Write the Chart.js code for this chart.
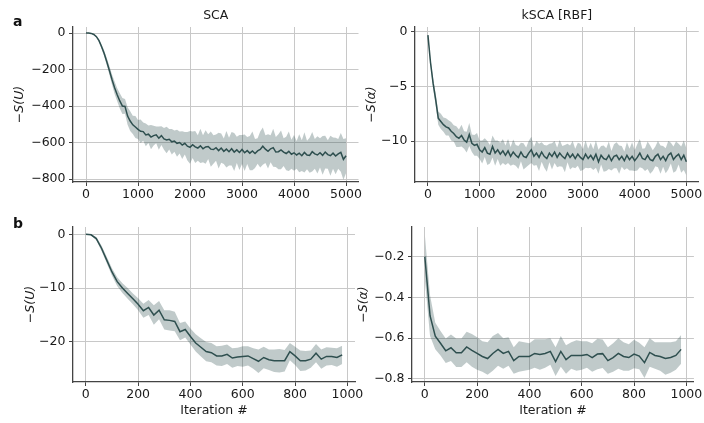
<!DOCTYPE html>
<html>
<head>
<meta charset="utf-8">
<script src="https://cdn.jsdelivr.net/npm/chart.js@4.4.0/dist/chart.umd.min.js"></script>
<style>
  html, body { margin: 0; padding: 0; background: #fff; }
  #wrap { position: relative; width: 704px; height: 423px; overflow: hidden; }
  #wrap canvas { position: absolute; left: 0; top: 0; }
  .panel-tag { position: absolute; font-family: 'DejaVu Sans', sans-serif; font-weight: bold; font-size: 14px; line-height: 1; color: #111; }
</style>
</head>
<body>
<div id="wrap">
  <canvas id="chartA1" width="704" height="423"></canvas>
  <canvas id="chartA2" width="704" height="423"></canvas>
  <canvas id="chartB1" width="704" height="423"></canvas>
  <canvas id="chartB2" width="704" height="423"></canvas>
  <div class="panel-tag" style="left:13px; top:14px;">a</div>
  <div class="panel-tag" style="left:13px; top:216px;">b</div>
</div>
<script>
/* --- DATA --- */
// iteration grids (row a: every 50 iterations, row b: every 20)
const steps = (start, end, step) => {
  const out = [];
  for (let v = start; v <= end; v += step) out.push(v);
  return out;
};
const ITER_LONG = steps(0, 5000, 50);
const ITER_SHORT = steps(0, 980, 20);

// a, SCA: mean of -S(U) and half-width of the band
const SCA_MEAN = [
  0, 0, -2, -8, -20, -42, -75, -112, -157, -205,
  -255, -300, -338, -372, -400, -402, -455, -482, -503, -515,
  -528, -538, -540, -558, -554, -570, -562, -558, -576, -562,
  -580, -586, -582, -596, -592, -604, -600, -614, -604, -620,
  -626, -612, -624, -630, -618, -634, -624, -622, -636, -638,
  -628, -644, -630, -648, -636, -650, -634, -652, -640, -654,
  -638, -656, -644, -658, -646, -660, -646, -638, -620, -636,
  -648, -634, -628, -652, -650, -640, -652, -660, -648, -664,
  -656, -668, -658, -672, -654, -668, -670, -650, -662, -668,
  -656, -670, -652, -666, -672, -658, -674, -662, -654, -692,
  -672
];
const SCA_SPREAD = [
  0, 1, 2, 3, 5, 8, 12, 16, 20, 24,
  28, 34, 36, 42, 44, 40, 48, 54, 50, 60,
  52, 64, 50, 62, 48, 66, 54, 46, 64, 52,
  60, 72, 56, 70, 58, 74, 60, 76, 62, 78,
  90, 72, 88, 70, 94, 74, 92, 68, 96, 78,
  72, 98, 80, 70, 100, 76, 92, 104, 72, 96,
  80, 100, 74, 94, 106, 80, 70, 98, 102, 76,
  94, 74, 104, 82, 96, 106, 76, 92, 108, 80,
  98, 76, 104, 84, 110, 78, 96, 108, 82, 102,
  80, 106, 90, 78, 110, 86, 100, 82, 106, 112,
  96
];

// a, kSCA [RBF]: mean of -S(alpha) and half-width
const KSCA_MEAN = [
  -0.3, -2.8, -4.7, -6.2, -7.9, -8.2, -8.5, -8.7, -8.8, -9.1,
  -9.3, -9.6, -9.75, -9.5, -9.9, -10.1, -9.4, -10.2, -10.4, -10.3,
  -10.8, -11.0, -10.6, -11.1, -11.2, -10.5, -11.1, -10.8, -11.2, -10.9,
  -11.3, -10.9, -11.4, -11.0, -11.3, -11.5, -11.0, -11.4, -11.5, -11.1,
  -10.8, -11.4, -11.1, -11.5, -11.0, -11.4, -11.6, -11.1, -11.4, -11.0,
  -11.5, -11.1, -11.4, -11.6, -11.1, -11.5, -11.2, -11.6, -11.2, -11.5,
  -11.7, -11.2, -11.6, -11.3, -11.7, -11.2, -11.9, -11.3, -11.6, -11.7,
  -11.3, -11.8, -11.4, -11.3, -11.7, -11.4, -11.8, -11.3, -11.7, -11.4,
  -11.8, -11.5, -11.1, -11.6, -11.7, -11.3, -11.7, -11.8, -11.4, -11.2,
  -11.7, -11.4, -11.8, -11.3, -11.1, -11.7, -11.4, -11.2, -11.7, -11.3,
  -11.9
];
const KSCA_SPREAD = [
  0.15, 0.3, 0.45, 0.55, 0.6, 0.7, 0.65, 0.8, 0.7, 0.85,
  0.75, 0.95, 0.8, 1.0, 0.8, 0.95, 1.05, 0.8, 0.95, 1.05,
  0.85, 1.05, 0.85, 1.1, 0.85, 1.0, 1.15, 0.85, 1.05, 1.1,
  0.9, 1.1, 0.85, 1.15, 0.95, 1.05, 0.85, 1.2, 0.9, 1.1,
  1.2, 0.85, 1.1, 1.25, 0.9, 1.05, 1.2, 0.85, 1.2, 1.0,
  0.9, 1.2, 0.95, 1.25, 0.85, 1.1, 1.2, 0.9, 1.05, 1.25,
  0.95, 1.25, 0.9, 1.15, 0.95, 1.25, 1.1, 0.85, 1.2, 1.05,
  1.25, 0.9, 1.1, 1.2, 1.3, 0.95, 0.85, 1.2, 1.0, 1.3,
  0.95, 1.2, 1.3, 0.9, 1.05, 1.25, 1.3, 0.95, 0.9, 1.2,
  1.3, 0.95, 1.15, 1.3, 0.95, 1.2, 1.35, 0.95, 1.2, 1.35,
  1.25
];

// b, SCA: mean of -S(U) and half-width
const SCA_B_MEAN = [
  0, -0.1, -0.8, -2.6, -4.8, -7.0, -8.8, -10.0, -11.0, -12.0,
  -13.0, -14.2, -13.6, -15.0, -14.1, -15.9, -16.0, -16.2, -18.1, -17.7,
  -19.0, -20.2, -21.0, -21.8, -22.0, -22.6, -22.6, -22.3, -23.0, -22.8,
  -22.7, -22.6, -23.1, -23.6, -22.9, -23.3, -23.5, -23.5, -23.5, -21.8,
  -22.6, -23.5, -23.5, -23.2, -22.1, -23.2, -22.7, -22.7, -22.9, -22.4
];
const SCA_B_SPREAD = [
  0.05, 0.1, 0.3, 0.5, 0.6, 0.7, 0.8, 0.9, 1.0, 1.0,
  1.1, 1.3, 1.4, 1.8, 1.7, 1.8, 1.9, 1.8, 1.6, 1.5,
  1.5, 1.6, 1.7, 1.8, 1.8, 1.8, 1.9, 1.8, 1.8, 1.7,
  1.9, 1.8, 1.9, 2.2, 2.0, 1.9, 2.1, 2.2, 2.0, 1.6,
  1.7, 1.9, 1.8, 1.6, 1.7, 1.8, 1.7, 1.6, 1.7, 1.7
];

// b, kSCA [RBF]: mean of -S(alpha) and half-width
const KSCA_B_MEAN = [
  -0.2, -0.49, -0.59, -0.625, -0.662, -0.647, -0.672, -0.672, -0.643, -0.66,
  -0.675, -0.69, -0.70, -0.675, -0.655, -0.675, -0.665, -0.71, -0.69, -0.69,
  -0.69, -0.675, -0.68, -0.675, -0.665, -0.715, -0.665, -0.705, -0.685, -0.685,
  -0.685, -0.68, -0.695, -0.678, -0.676, -0.71, -0.695, -0.675, -0.69, -0.695,
  -0.678, -0.688, -0.72, -0.67, -0.685, -0.69, -0.70, -0.695, -0.685, -0.655
];
const KSCA_B_SPREAD = [
  0.11, 0.1, 0.065, 0.06, 0.06, 0.065, 0.07, 0.07, 0.075, 0.08,
  0.08, 0.075, 0.08, 0.085, 0.08, 0.075, 0.07, 0.065, 0.075, 0.07,
  0.065, 0.07, 0.075, 0.07, 0.065, 0.07, 0.075, 0.07, 0.065, 0.075,
  0.07, 0.065, 0.07, 0.075, 0.07, 0.065, 0.07, 0.075, 0.07, 0.065,
  0.07, 0.065, 0.075, 0.07, 0.065, 0.07, 0.08, 0.075, 0.07, 0.07
];

// tick labels
const TICKS_X_LONG = [0, 1000, 2000, 3000, 4000, 5000];
const TICKS_X_SHORT = [0, 200, 400, 600, 800, 1000];
const TICKS_Y_SCA = [0, -200, -400, -600, -800];
const TICKS_Y_KSCA = [0, -5, -10];
const TICKS_Y_SCA_B = [0, -10, -20];
const TICKS_Y_KSCA_B = [-0.2, -0.4, -0.6, -0.8];

/* --- STYLE --- */
const LINE = '#2f4f4f';
const BAND = 'rgba(47, 79, 79, 0.3)';
const GRID = '#c8c8c8';
const SPINE = '#444';
const TEXT = '#1a1a1a';

Chart.defaults.font.family = "'DejaVu Sans', sans-serif";
Chart.defaults.font.size = 12;
Chart.defaults.color = TEXT;

const fmt = v => String(v).replace('-', '\u2212');

function makePanel(id, cfg) {
  const pts = arr => cfg.iter.map((x, i) => ({ x, y: arr[i] }));
  const upper = cfg.mean.map((m, i) => m + cfg.spread[i]);
  const lower = cfg.mean.map((m, i) => m - cfg.spread[i]);

  new Chart(document.getElementById(id), {
    type: 'line',
    data: {
      datasets: [
        { data: pts(upper), borderWidth: 0, pointRadius: 0, fill: '+1', backgroundColor: BAND },
        { data: pts(lower), borderWidth: 0, pointRadius: 0, fill: false },
        { data: pts(cfg.mean), borderColor: LINE, borderWidth: 1.5, pointRadius: 0, fill: false, tension: 0 }
      ]
    },
    options: {
      responsive: false,
      animation: false,
      devicePixelRatio: 1,
      layout: { padding: cfg.pad },
      plugins: {
        legend: { display: false },
        tooltip: { enabled: false },
        title: cfg.title ? {
          display: true, text: cfg.title, fullSize: false, color: TEXT,
          font: { size: 12.5, weight: 'normal' }, padding: { top: 8.5, bottom: 3.5 }
        } : { display: false }
      },
      scales: {
        x: {
          type: 'linear', min: cfg.xmin, max: cfg.xmax,
          afterBuildTicks: s => { s.ticks = cfg.xticks.map(value => ({ value })); },
          afterFit: s => { s.height = cfg.xh; },
          ticks: { callback: fmt, padding: 1.5, maxRotation: 0, color: TEXT, font: { size: 12.5 } },
          grid: { color: GRID, lineWidth: 1, tickLength: 4, tickColor: SPINE, tickWidth: 1 },
          border: { display: true, color: SPINE, width: 1.3 },
          title: cfg.xtitle ? { display: true, text: cfg.xtitle, padding: { top: 0, bottom: 0 }, color: TEXT, font: { size: 12.5 } } : { display: false }
        },
        y: {
          type: 'linear', min: cfg.ymin, max: cfg.ymax,
          afterBuildTicks: s => { s.ticks = cfg.yticks.map(value => ({ value })); },
          afterFit: s => { s.width = cfg.yw; },
          ticks: { callback: fmt, padding: 3.5, color: TEXT, font: { size: 12.5 } },
          grid: { color: GRID, lineWidth: 1, tickLength: 4, tickColor: SPINE, tickWidth: 1 },
          border: { display: true, color: SPINE, width: 1.3 },
          title: { display: true, text: cfg.ytitle, padding: { top: 0, bottom: 0 }, color: TEXT, font: { style: 'italic', size: 12.5 } }
        }
      }
    }
  });
}

makePanel('chartA1', {
  iter: ITER_LONG, mean: SCA_MEAN, spread: SCA_SPREAD,
  xmin: -250, xmax: 5240, ymin: -816, ymax: 33,
  xticks: TICKS_X_LONG, yticks: TICKS_Y_SCA,
  title: 'SCA', ytitle: '\u2212S(U)',
  pad: { left: 12.5, right: 345.5, top: 0, bottom: 211 }, yw: 60.5, xh: 30
});

makePanel('chartA2', {
  iter: ITER_LONG, mean: KSCA_MEAN, spread: KSCA_SPREAD,
  xmin: -250, xmax: 5240, ymin: -13.75, ymax: 0.45,
  xticks: TICKS_X_LONG, yticks: TICKS_Y_KSCA,
  title: 'kSCA [RBF]', ytitle: '\u2212S(\u03b1)',
  pad: { left: 364.5, right: 4, top: 0, bottom: 211 }, yw: 50.5, xh: 30
});

makePanel('chartB1', {
  iter: ITER_SHORT, mean: SCA_B_MEAN, spread: SCA_B_SPREAD,
  xmin: -49, xmax: 1029, ymin: -27.45, ymax: 1.35,
  xticks: TICKS_X_SHORT, yticks: TICKS_Y_SCA_B,
  xtitle: 'Iteration #', ytitle: '\u2212S(U)',
  pad: { left: 23.5, right: 349, top: 227, bottom: 4.5 }, yw: 49.5, xh: 36.5
});

makePanel('chartB2', {
  iter: ITER_SHORT, mean: KSCA_B_MEAN, spread: KSCA_B_SPREAD,
  xmin: -49, xmax: 1029, ymin: -0.815, ymax: -0.055,
  xticks: TICKS_X_SHORT, yticks: TICKS_Y_KSCA_B,
  xtitle: 'Iteration #', ytitle: '\u2212S(\u03b1)',
  pad: { left: 356.5, right: 9.7, top: 227, bottom: 4.5 }, yw: 55.5, xh: 36.5
});
</script>
</body>
</html>
